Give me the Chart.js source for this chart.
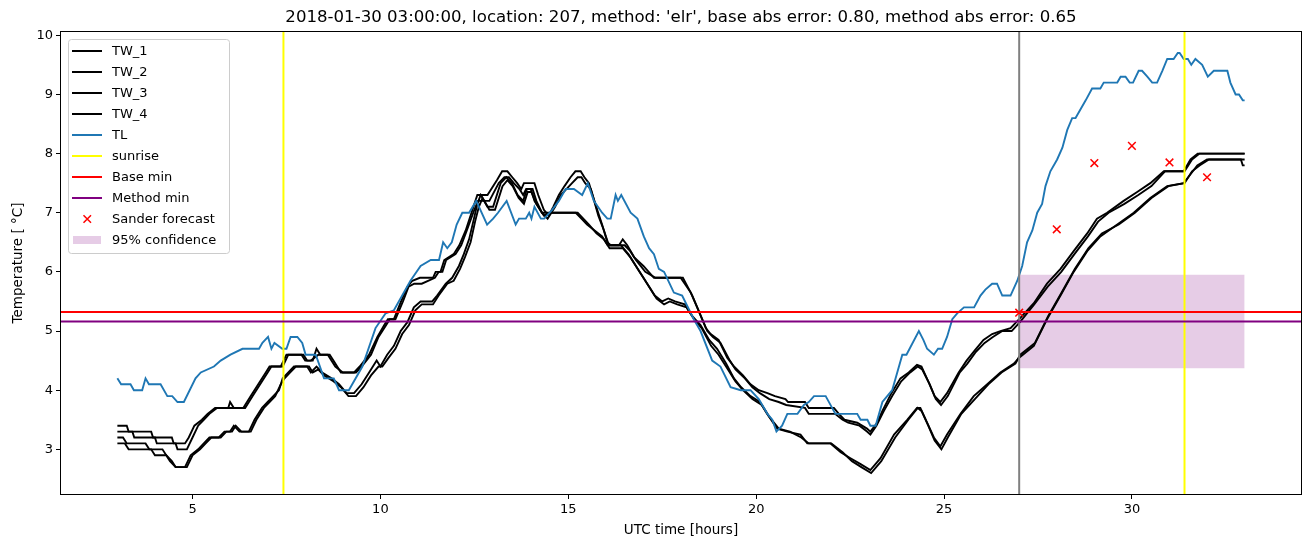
<!DOCTYPE html>
<html>
<head>
<meta charset="utf-8">
<script src="https://cdn.jsdelivr.net/npm/chart.js@4.4.1/dist/chart.umd.min.js"></script>
<style>
    body { margin: 0; background: #fff; }
    canvas { display: block; }
</style>
</head>
<body>
<canvas id="temp-chart" width="1310" height="547"></canvas>
<script>
const xTicks = [5, 10, 15, 20, 25, 30];
const yTicks = [3, 4, 5, 6, 7, 8, 9, 10];

// [hour, temperature]
const tw1 = [[3.0,3.4],[3.25,3.4],[3.3,3.3],[3.9,3.3],[3.95,3.2],[4.45,3.2],[4.5,3.1],[4.8,3.1],[4.9,3.2],[5.05,3.4],[5.25,3.5],[5.4,3.6],[5.6,3.7],[5.95,3.7],[6.0,3.8],[6.1,3.7],[6.35,3.7],[6.55,3.9],[6.75,4.1],[6.95,4.3],[7.05,4.4],[7.35,4.4],[7.5,4.6],[7.95,4.6],[8.05,4.5],[8.2,4.5],[8.3,4.7],[8.4,4.6],[8.65,4.6],[8.75,4.5],[8.95,4.3],[9.3,4.3],[9.45,4.4],[9.7,4.6],[9.92,4.9],[10.1,5.1],[10.2,5.2],[10.36,5.2],[10.55,5.5],[10.72,5.75],[10.85,5.85],[11.05,5.9],[11.4,5.9],[11.47,6.0],[11.6,6.0],[11.7,6.2],[11.95,6.3],[12.1,6.45],[12.27,6.7],[12.45,7.05],[12.58,7.3],[12.85,7.3],[13.1,7.55],[13.24,7.7],[13.38,7.7],[13.51,7.6],[13.64,7.5],[13.75,7.4],[13.82,7.5],[14.1,7.5],[14.2,7.3],[14.35,7.05],[14.48,6.95],[14.6,7.1],[14.75,7.3],[14.9,7.45],[15.06,7.6],[15.19,7.7],[15.33,7.7],[15.43,7.6],[15.55,7.5],[15.77,7.05],[15.9,6.8],[16.04,6.5],[16.13,6.45],[16.35,6.45],[16.45,6.55],[16.57,6.45],[16.75,6.25],[17.0,6.1],[17.28,5.9],[17.99,5.9],[18.26,5.65],[18.43,5.4],[18.66,5.05],[18.79,4.95],[19.0,4.85],[19.23,4.55],[19.41,4.4],[19.65,4.25],[19.85,4.1],[20.07,4.0],[20.3,3.95],[20.5,3.9],[20.78,3.85],[20.85,3.8],[21.3,3.8],[21.4,3.7],[22.07,3.7],[22.2,3.6],[22.35,3.5],[22.69,3.45],[22.95,3.35],[23.04,3.3],[23.22,3.45],[23.36,3.65],[23.6,3.95],[23.84,4.2],[24.06,4.3],[24.28,4.43],[24.4,4.4],[24.6,4.12],[24.75,3.9],[24.9,3.8],[25.08,3.95],[25.39,4.3],[25.6,4.5],[25.83,4.68],[26.05,4.85],[26.28,4.95],[26.5,5.0],[26.77,5.05],[27.0,5.2],[27.39,5.47],[27.74,5.8],[28.1,6.05],[28.45,6.35],[28.81,6.65],[29.07,6.9],[29.34,7.0],[29.78,7.2],[30.14,7.35],[30.49,7.5],[30.85,7.7],[31.38,7.7],[31.56,7.9],[31.75,8.0],[33.0,8.0]];
const tw2 = [[3.0,3.3],[3.4,3.3],[3.45,3.2],[4.0,3.2],[4.05,3.1],[4.55,3.1],[4.6,3.0],[4.85,3.0],[5.0,3.2],[5.15,3.4],[5.3,3.5],[5.45,3.6],[5.65,3.7],[6.4,3.7],[6.6,3.9],[6.8,4.1],[7.0,4.3],[7.1,4.4],[7.4,4.4],[7.55,4.6],[7.9,4.6],[8.0,4.5],[8.15,4.5],[8.35,4.6],[8.6,4.6],[8.8,4.4],[9.0,4.3],[9.35,4.3],[9.5,4.4],[9.75,4.6],[9.95,4.9],[10.15,5.1],[10.25,5.2],[10.4,5.2],[10.6,5.5],[10.75,5.75],[10.9,5.8],[11.1,5.8],[11.45,5.9],[11.55,6.0],[11.65,6.0],[11.75,6.2],[12.0,6.3],[12.15,6.45],[12.3,6.7],[12.5,7.05],[12.6,7.2],[12.9,7.2],[13.15,7.5],[13.3,7.6],[13.42,7.6],[13.55,7.5],[13.7,7.4],[13.8,7.3],[13.88,7.4],[14.05,7.4],[14.15,7.2],[14.3,7.0],[14.45,6.9],[14.65,7.1],[14.8,7.3],[14.95,7.4],[15.1,7.5],[15.25,7.6],[15.35,7.6],[15.45,7.5],[15.6,7.4],[15.8,6.95],[15.95,6.7],[16.08,6.45],[16.5,6.45],[16.65,6.35],[16.8,6.2],[17.05,6.0],[17.32,5.9],[18.05,5.9],[18.3,5.6],[18.5,5.3],[18.7,5.0],[18.85,4.9],[19.05,4.8],[19.3,4.5],[19.45,4.35],[19.7,4.2],[19.9,4.05],[20.1,3.95],[20.35,3.85],[20.6,3.8],[20.8,3.75],[21.3,3.7],[21.4,3.6],[22.1,3.6],[22.3,3.5],[22.45,3.45],[22.75,3.4],[22.95,3.3],[23.04,3.25],[23.2,3.4],[23.4,3.65],[23.62,3.9],[23.86,4.15],[24.1,4.3],[24.3,4.4],[24.42,4.35],[24.62,4.1],[24.78,3.85],[24.92,3.75],[25.1,3.9],[25.42,4.3],[25.62,4.45],[25.85,4.65],[26.08,4.8],[26.3,4.9],[26.55,5.0],[26.8,5.0],[27.02,5.15],[27.4,5.45],[27.76,5.75],[28.12,6.0],[28.47,6.3],[28.83,6.6],[29.1,6.85],[29.38,7.0],[29.8,7.15],[30.17,7.3],[30.52,7.45],[30.88,7.7],[31.4,7.7],[31.6,7.9],[31.8,8.0],[33.0,8.0]];
const tw3 = [[3.0,3.2],[3.15,3.2],[3.25,3.1],[3.75,3.1],[3.85,3.0],[4.2,3.0],[4.3,2.9],[4.45,2.8],[4.55,2.7],[4.8,2.7],[4.95,2.9],[5.15,3.0],[5.3,3.1],[5.45,3.2],[5.7,3.2],[5.85,3.3],[6.0,3.3],[6.1,3.4],[6.25,3.3],[6.5,3.3],[6.65,3.5],[6.85,3.7],[7.0,3.8],[7.15,3.9],[7.3,4.0],[7.4,4.2],[7.55,4.3],[7.7,4.4],[8.05,4.4],[8.15,4.3],[8.3,4.4],[8.45,4.3],[8.7,4.2],[8.9,4.1],[9.1,3.95],[9.3,3.95],[9.5,4.1],[9.7,4.3],[9.9,4.5],[10.0,4.4],[10.18,4.6],[10.36,4.75],[10.54,5.0],[10.72,5.15],[10.89,5.4],[11.07,5.5],[11.38,5.5],[11.51,5.6],[11.74,5.8],[11.91,5.9],[12.09,6.1],[12.22,6.3],[12.36,6.55],[12.49,6.9],[12.58,7.15],[12.67,7.3],[12.85,7.1],[13.0,7.1],[13.2,7.5],[13.35,7.6],[13.5,7.5],[13.65,7.3],[13.8,7.2],[13.9,7.4],[14.0,7.4],[14.1,7.2],[14.3,7.0],[15.2,7.0],[15.35,6.9],[15.5,6.8],[15.7,6.7],[15.9,6.6],[16.05,6.45],[16.4,6.45],[16.6,6.3],[16.8,6.1],[17.0,5.9],[17.3,5.6],[17.5,5.5],[17.66,5.55],[17.84,5.5],[18.1,5.45],[18.3,5.25],[18.52,5.1],[18.75,4.85],[18.96,4.7],[19.2,4.45],[19.41,4.2],[19.6,4.05],[19.85,3.9],[20.1,3.8],[20.29,3.6],[20.56,3.35],[20.83,3.3],[21.18,3.25],[21.36,3.1],[21.98,3.1],[22.25,2.95],[22.51,2.85],[22.78,2.75],[23.04,2.65],[23.31,2.85],[23.67,3.25],[24.02,3.5],[24.28,3.7],[24.37,3.7],[24.55,3.45],[24.73,3.2],[24.9,3.05],[25.08,3.25],[25.44,3.6],[25.79,3.9],[26.15,4.1],[26.5,4.3],[26.86,4.45],[27.0,4.55],[27.39,4.75],[27.74,5.2],[28.1,5.6],[28.45,6.0],[28.81,6.35],[29.16,6.6],[29.61,6.8],[30.05,7.0],[30.49,7.25],[30.94,7.45],[31.38,7.5],[31.56,7.65],[31.74,7.8],[32.0,7.9],[33.0,7.9]];
const tw4 = [[3.0,3.1],[3.2,3.1],[3.3,3.0],[3.9,3.0],[4.0,2.9],[4.3,2.9],[4.4,2.8],[4.55,2.7],[4.85,2.7],[5.0,2.9],[5.2,3.0],[5.35,3.1],[5.5,3.2],[5.75,3.2],[5.9,3.3],[6.05,3.3],[6.15,3.4],[6.3,3.3],[6.55,3.3],[6.7,3.5],[6.9,3.7],[7.05,3.8],[7.2,3.9],[7.35,4.1],[7.45,4.2],[7.6,4.3],[7.75,4.4],[8.1,4.4],[8.2,4.3],[8.35,4.35],[8.5,4.25],[8.75,4.15],[8.95,4.05],[9.15,3.9],[9.35,3.9],[9.55,4.05],[9.75,4.25],[9.95,4.4],[10.05,4.4],[10.22,4.55],[10.4,4.7],[10.58,4.95],[10.76,5.1],[10.93,5.35],[11.1,5.45],[11.4,5.45],[11.55,5.6],[11.78,5.8],[11.95,5.85],[12.12,6.05],[12.25,6.25],[12.4,6.5],[12.52,6.85],[12.62,7.1],[12.72,7.25],[12.9,7.05],[13.05,7.05],[13.25,7.45],[13.38,7.55],[13.52,7.45],[13.68,7.25],[13.82,7.15],[13.92,7.35],[14.02,7.35],[14.15,7.15],[14.35,6.95],[14.55,7.0],[15.25,7.0],[15.4,6.9],[15.55,6.8],[15.75,6.65],[15.95,6.55],[16.1,6.4],[16.45,6.4],[16.65,6.25],[16.85,6.05],[17.05,5.85],[17.35,5.55],[17.55,5.45],[17.7,5.5],[17.9,5.45],[18.15,5.4],[18.35,5.2],[18.55,5.05],[18.8,4.75],[19.0,4.6],[19.25,4.35],[19.45,4.15],[19.65,4.0],[19.9,3.85],[20.15,3.75],[20.35,3.55],[20.6,3.35],[20.9,3.3],[21.2,3.2],[21.4,3.1],[22.0,3.1],[22.3,2.95],[22.55,2.8],[22.8,2.7],[23.06,2.6],[23.33,2.8],[23.7,3.2],[24.05,3.5],[24.3,3.7],[24.4,3.65],[24.58,3.4],[24.75,3.15],[24.93,3.0],[25.1,3.2],[25.46,3.6],[25.82,3.85],[26.18,4.1],[26.53,4.3],[26.9,4.45],[27.03,4.6],[27.42,4.8],[27.77,5.25],[28.13,5.65],[28.48,6.05],[28.84,6.4],[29.2,6.65],[29.65,6.8],[30.08,7.0],[30.52,7.25],[30.97,7.45],[31.4,7.5],[31.6,7.7],[31.8,7.8],[32.05,7.9],[32.9,7.9],[32.95,7.8],[33.0,7.8]];
const tl = [[3.0,4.2],[3.1,4.1],[3.35,4.1],[3.44,4.0],[3.66,4.0],[3.75,4.2],[3.84,4.1],[4.15,4.1],[4.33,3.9],[4.46,3.9],[4.6,3.8],[4.77,3.8],[5.08,4.2],[5.22,4.3],[5.57,4.4],[5.75,4.5],[6.01,4.6],[6.33,4.7],[6.77,4.7],[6.86,4.8],[7.01,4.9],[7.1,4.7],[7.18,4.8],[7.39,4.7],[7.5,4.7],[7.61,4.9],[7.79,4.9],[7.92,4.8],[8.01,4.6],[8.28,4.6],[8.5,4.2],[8.76,4.2],[8.9,4.0],[9.16,4.0],[9.52,4.4],[9.87,5.05],[10.14,5.3],[10.36,5.35],[10.8,5.85],[11.07,6.1],[11.34,6.2],[11.56,6.2],[11.67,6.5],[11.78,6.4],[11.9,6.5],[12.03,6.8],[12.18,7.0],[12.36,7.0],[12.55,7.2],[12.84,6.8],[13.0,6.9],[13.13,7.0],[13.36,7.2],[13.6,6.8],[13.69,6.9],[13.87,6.9],[13.96,7.0],[14.02,6.9],[14.1,7.1],[14.27,6.9],[14.36,6.9],[14.57,7.05],[14.75,7.2],[14.93,7.4],[15.15,7.4],[15.37,7.3],[15.52,7.5],[15.68,7.2],[15.9,7.0],[16.04,6.9],[16.13,6.9],[16.26,7.3],[16.32,7.2],[16.41,7.3],[16.66,7.0],[16.84,6.9],[17.01,6.6],[17.15,6.4],[17.28,6.3],[17.41,6.05],[17.55,6.0],[17.81,5.65],[18.03,5.6],[18.34,5.2],[18.52,5.0],[18.83,4.5],[19.05,4.4],[19.32,4.05],[19.59,4.0],[19.85,4.0],[20.07,3.85],[20.3,3.6],[20.43,3.5],[20.54,3.3],[20.69,3.4],[20.83,3.6],[21.1,3.6],[21.27,3.75],[21.4,3.8],[21.54,3.9],[21.85,3.9],[22.11,3.6],[22.69,3.6],[22.78,3.5],[22.96,3.5],[23.04,3.4],[23.18,3.4],[23.36,3.8],[23.62,4.0],[23.89,4.6],[24.0,4.6],[24.33,5.0],[24.45,4.85],[24.55,4.7],[24.73,4.6],[24.84,4.7],[24.95,4.7],[25.08,4.9],[25.22,5.2],[25.35,5.3],[25.53,5.4],[25.8,5.4],[25.97,5.6],[26.1,5.7],[26.28,5.8],[26.41,5.8],[26.55,5.6],[26.77,5.6],[26.95,5.85],[27.08,6.1],[27.21,6.5],[27.35,6.7],[27.48,7.0],[27.61,7.15],[27.7,7.45],[27.83,7.7],[28.01,7.9],[28.15,8.1],[28.28,8.4],[28.41,8.6],[28.5,8.6],[28.77,8.9],[28.94,9.1],[29.16,9.1],[29.25,9.2],[29.61,9.2],[29.7,9.3],[29.83,9.3],[29.94,9.2],[30.03,9.2],[30.18,9.4],[30.27,9.4],[30.41,9.3],[30.54,9.2],[30.67,9.2],[30.81,9.4],[30.94,9.6],[31.11,9.6],[31.22,9.7],[31.27,9.7],[31.38,9.6],[31.49,9.6],[31.58,9.5],[31.69,9.6],[31.87,9.5],[32.02,9.3],[32.18,9.4],[32.54,9.4],[32.62,9.2],[32.76,9.0],[32.85,9.0],[32.95,8.9],[33.0,8.9]];

const sunriseHours = [7.42, 31.4];
const forecastStartHour = 27.0;
const baseMin = 5.32;
const methodMin = 5.16;
const forecastHours = [27, 28, 29, 30, 31, 32];
const forecastValues = [5.31, 6.72, 7.84, 8.13, 7.85, 7.60];
const confHours = [27, 33];
const confLow = 4.37;
const confHigh = 5.95;

const xMin = 1.5, xMax = 34.5;
const yMin = 2.245, yMax = 10.055;

const FONT = "'DejaVu Sans', sans-serif";

function toPoints(arr) {
    return arr.map(p => ({x: p[0], y: p[1]}));
}

function blackLine(label, arr, order) {
    return {label: label, data: toPoints(arr), borderColor: '#000000', borderWidth: 1.9,
        pointRadius: 0, fill: false, order: order, legendKind: 'line'};
}

const frame = {
    id: 'frame',
    afterDatasetsDraw(chart) {
        const a = chart.chartArea;
        const ctx = chart.ctx;
        ctx.save();
        ctx.strokeStyle = '#000';
        ctx.lineWidth = 1;
        ctx.strokeRect(Math.round(a.left) - 0.5, Math.round(a.top) - 0.5,
            Math.round(a.right - a.left) + 1, Math.round(a.bottom - a.top) + 1);
        ctx.restore();
    }
};

const legendBox = {
    id: 'legendBox',
    afterDraw(chart) {
        const ctx = chart.ctx;
        const items = chart.data.datasets.filter(d => d.label && !d.label.startsWith('_'));
        ctx.save();
        ctx.beginPath();
        ctx.roundRect(68.5, 39.5, 161, 214, 3);
        ctx.fillStyle = 'rgba(255,255,255,0.8)';
        ctx.fill();
        ctx.strokeStyle = '#cccccc';
        ctx.lineWidth = 1;
        ctx.stroke();
        ctx.font = '13px ' + FONT;
        ctx.textBaseline = 'middle';
        items.forEach(function (d, i) {
            const y = 51 + i * 21;
            if (d.legendKind === 'marker') {
                ctx.strokeStyle = d.pointBorderColor;
                ctx.lineWidth = 1.5;
                ctx.beginPath();
                ctx.moveTo(83.5, y - 3.8); ctx.lineTo(91, y + 3.8);
                ctx.moveTo(83.5, y + 3.8); ctx.lineTo(91, y - 3.8);
                ctx.stroke();
            } else if (d.legendKind === 'patch') {
                ctx.fillStyle = d.backgroundColor;
                ctx.fillRect(73, y - 4, 28, 8);
            } else {
                ctx.strokeStyle = d.borderColor;
                ctx.lineWidth = 2;
                ctx.beginPath();
                ctx.moveTo(72, y); ctx.lineTo(102, y);
                ctx.stroke();
            }
            ctx.fillStyle = '#000';
            ctx.fillText(d.label, 112, y + 0.5);
        });
        ctx.restore();
    }
};

Chart.defaults.color = '#000';
Chart.defaults.font.family = FONT;

const datasets = [
    blackLine('TW_1', tw1, 15),
    blackLine('TW_2', tw2, 14),
    blackLine('TW_3', tw3, 13),
    blackLine('TW_4', tw4, 12),
    {label: 'TL', data: toPoints(tl), borderColor: '#1f77b4', borderWidth: 1.9, pointRadius: 0,
        fill: false, order: 10, legendKind: 'line'},
    {label: 'sunrise', data: [{x: sunriseHours[0], y: yMin}, {x: sunriseHours[0], y: yMax}],
        borderColor: '#ffff00', borderWidth: 2, pointRadius: 0, order: 8, legendKind: 'line'},
    {label: 'Base min', data: [{x: xMin, y: baseMin}, {x: xMax, y: baseMin}],
        borderColor: '#ff0000', borderWidth: 2, pointRadius: 0, order: 6, legendKind: 'line'},
    {label: 'Method min', data: [{x: xMin, y: methodMin}, {x: xMax, y: methodMin}],
        borderColor: '#800080', borderWidth: 2, pointRadius: 0, order: 5, legendKind: 'line'},
    {label: 'Sander forecast', data: forecastHours.map((h, i) => ({x: h, y: forecastValues[i]})),
        showLine: false, pointStyle: 'crossRot', pointRadius: 5.4, pointBorderWidth: 1.5,
        pointBorderColor: '#ff0000', borderColor: '#ff0000', order: 1, legendKind: 'marker'},
    {label: '95% confidence', data: confHours.map(h => ({x: h, y: confHigh})),
        fill: {value: confLow}, backgroundColor: 'rgba(128,0,128,0.2)', borderWidth: 0,
        pointRadius: 0, order: 20, legendKind: 'patch'},
    {label: '_sunrise2', data: [{x: sunriseHours[1], y: yMin}, {x: sunriseHours[1], y: yMax}],
        borderColor: '#ffff00', borderWidth: 2, pointRadius: 0, order: 8},
    {label: '_forecast_start', data: [{x: forecastStartHour, y: yMin}, {x: forecastStartHour, y: yMax}],
        borderColor: '#808080', borderWidth: 2, pointRadius: 0, order: 9}
];

const tempChart = new Chart(document.getElementById('temp-chart'), {
    type: 'line',
    data: {datasets: datasets},
    plugins: [frame, legendBox],
    options: {
        responsive: false,
        animation: false,
        devicePixelRatio: 1,
        layout: {padding: {left: 0, right: 9, top: 0, bottom: 0}},
        elements: {line: {tension: 0}},
        plugins: {
            legend: {display: false},
            tooltip: {enabled: false},
            title: {
                display: true,
                fullSize: false,
                text: "2018-01-30 03:00:00, location: 207, method: 'elr', base abs error: 0.80, method abs error: 0.65",
                color: '#000',
                font: {size: 16.6, weight: 'normal', family: FONT},
                padding: {top: 8, bottom: 4.1}
            }
        },
        scales: {
            x: {
                type: 'linear',
                min: xMin,
                max: xMax,
                afterBuildTicks: function (scale) { scale.ticks = xTicks.map(v => ({value: v})); },
                afterFit: function (scale) { scale.height = 53; },
                grid: {drawOnChartArea: false, drawTicks: true, tickLength: 5, color: '#000'},
                border: {display: false},
                ticks: {font: {size: 13}, padding: 3, maxRotation: 0, callback: v => String(v)},
                title: {display: true, text: 'UTC time [hours]', font: {size: 13.5}, padding: {top: 0, bottom: 8}}
            },
            y: {
                type: 'linear',
                min: yMin,
                max: yMax,
                afterBuildTicks: function (scale) { scale.ticks = yTicks.map(v => ({value: v})); },
                afterFit: function (scale) { scale.width = 61; },
                grid: {drawOnChartArea: false, drawTicks: true, tickLength: 5, color: '#000'},
                border: {display: false},
                ticks: {font: {size: 13}, padding: 3, callback: v => String(v)},
                title: {display: true, text: 'Temperature [ °C]', font: {size: 13.5}, padding: {top: 10, bottom: 0}}
            }
        }
    }
});
</script>
</body>
</html>
